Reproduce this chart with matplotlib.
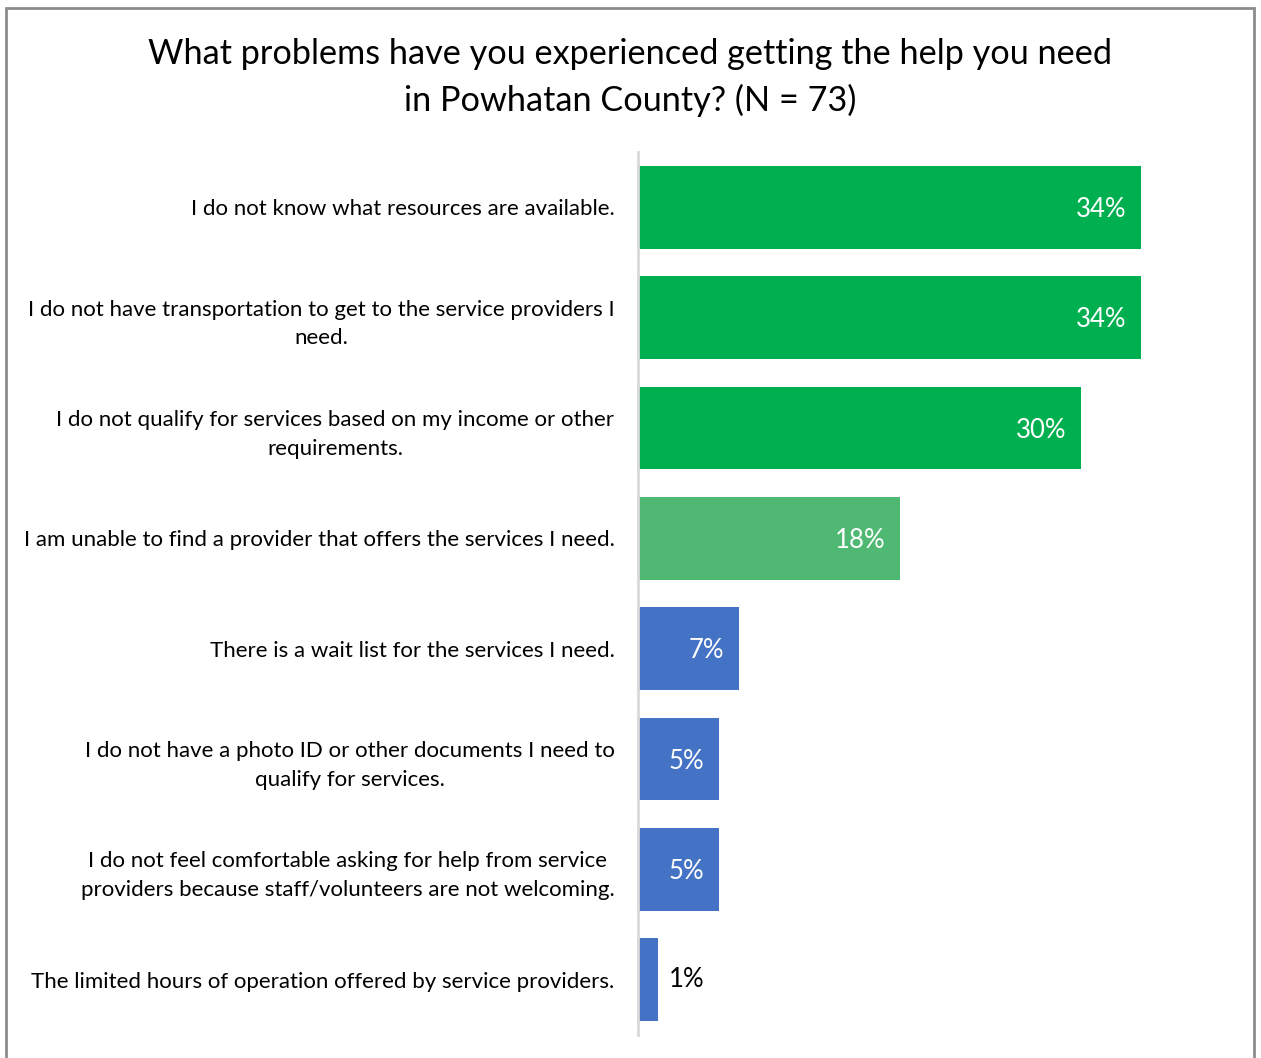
import matplotlib.pyplot as plt
from matplotlib.patches import Rectangle

plt.rcParams['font.family'] = ['Lato', 'DejaVu Sans']

# survey responses, N = 73
n_total = 73
problems = [
    "I do not know what resources are available.",
    "I do not have transportation to get to the service providers I\nneed.",
    "I do not qualify for services based on my income or other\nrequirements.",
    "I am unable to find a provider that offers the services I need.",
    "There is a wait list for the services I need.",
    "I do not have a photo ID or other documents I need to\nqualify for services.",
    "I do not feel comfortable asking for help from service\nproviders because staff/volunteers are not welcoming.",
    "The limited hours of operation offered by service providers.",
]
counts = [25, 25, 22, 13, 5, 4, 4, 1]
bar_colors = ["#00B050", "#00B050", "#00B050", "#4FB873",
              "#4472C4", "#4472C4", "#4472C4", "#4472C4"]

pct = [c / n_total * 100 for c in counts]

fig = plt.figure(figsize=(12.61, 10.58), dpi=100)
ax = fig.add_axes([0.506, 0.0217, 0.466, 0.8346])

y = list(range(len(problems)))
ax.barh(y, pct, height=0.75, color=bar_colors)
ax.set_ylim(len(problems) - 0.5, -0.5)
ax.set_xlim(0, 40)

for yi, p in zip(y, pct):
    label = f"{p:.0f}%"
    if p > 3:
        ax.text(p - 1.0, yi + 0.02, label, ha="right", va="center",
                color="white", fontsize=18.5)
    else:
        ax.text(p + 0.7, yi, label, ha="left", va="center",
                color="black", fontsize=18.5)

ax.set_yticks(y)
ax.set_yticklabels(problems, fontsize=16, multialignment="center",
                   linespacing=1.55)
ax.tick_params(axis="y", length=0, pad=17)
ax.set_xticks([])
for side in ["top", "right", "bottom"]:
    ax.spines[side].set_visible(False)
ax.spines["left"].set_color("#D9D9D9")
ax.spines["left"].set_linewidth(2)

fig.text(0.5, 0.927, "What problems have you experienced getting the help you need\nin Powhatan County? (N = 73)",
         ha="center", va="center", fontsize=24.7, linespacing=1.5)

# chart border
fig.patches.append(Rectangle((6 / 1261, -0.05), 1248 / 1261, 1.05 - 8 / 1058,
                             transform=fig.transFigure, fill=False,
                             edgecolor="#8C8C8C", linewidth=2))

fig.savefig("out.png", dpi=100)
